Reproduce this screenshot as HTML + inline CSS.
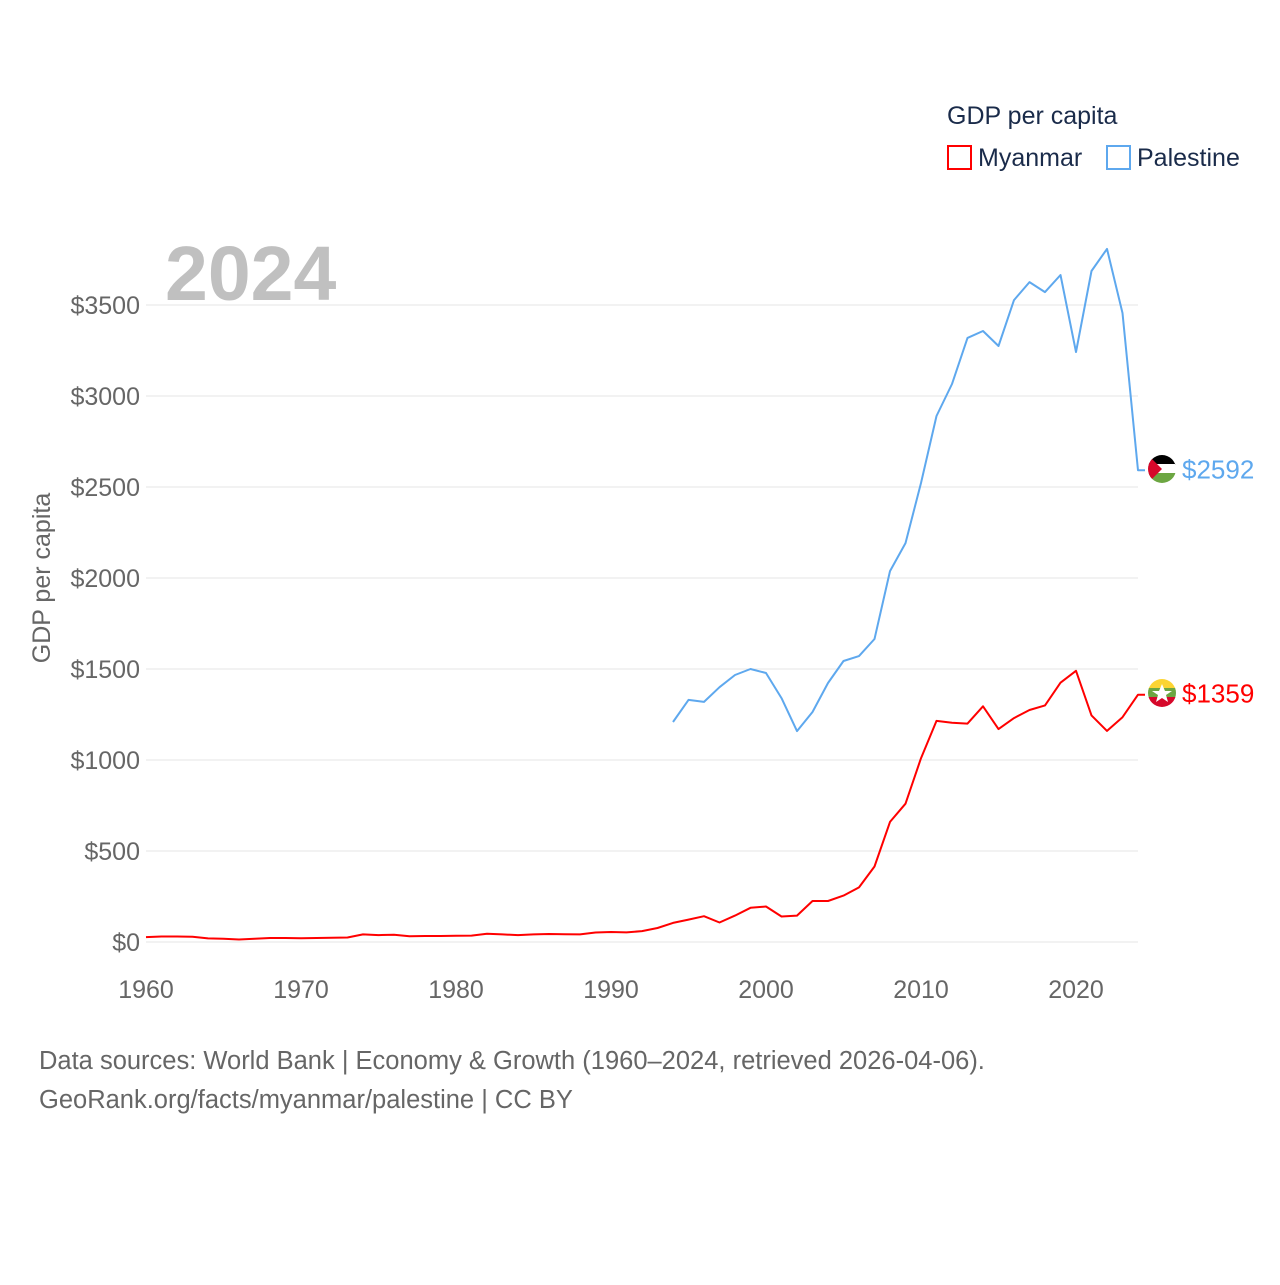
<!DOCTYPE html>
<html><head><meta charset="utf-8"><style>
body{margin:0;background:#fff;font-family:"Liberation Sans",sans-serif;}
svg text{font-family:"Liberation Sans",sans-serif;}
</style></head><body>
<svg id="chart" width="1280" height="1280" viewBox="0 0 1280 1280" xmlns="http://www.w3.org/2000/svg">
<rect width="1280" height="1280" fill="#fff"/>
<g id="grid"></g>
<g id="yticks"></g>
<g id="xticks"></g>
<text x="165" y="300" font-size="77" font-weight="bold" fill="#c0c0c0">2024</text>
<text transform="translate(50,578) rotate(-90)" text-anchor="middle" font-size="25" fill="#666">GDP per capita</text>
<g id="series"></g>
<g>
<text x="947" y="124" font-size="25" fill="#1a2b4a">GDP per capita</text>
<rect x="948" y="146" width="23" height="23" fill="none" stroke="#ff0000" stroke-width="2"/>
<text x="978" y="166" font-size="25" fill="#1a2b4a">Myanmar</text>
<rect x="1107" y="146" width="23" height="23" fill="none" stroke="#5ea8ee" stroke-width="2"/>
<text x="1137" y="166" font-size="25" fill="#1a2b4a">Palestine</text>
</g>
<g>
<clipPath id="cp1"><circle cx="1162" cy="469" r="14"/></clipPath>
<g clip-path="url(#cp1)"><rect x="1148" y="455" width="28" height="10" fill="#000"/><rect x="1148" y="464" width="28" height="10" fill="#fff"/><rect x="1148" y="473" width="28" height="10" fill="#6ca642"/><polygon points="1148,455 1162,469 1148,483" fill="#d6082a"/></g>
</g>
<g>
<clipPath id="cp2"><circle cx="1162" cy="693" r="14"/></clipPath>
<g clip-path="url(#cp2)"><rect x="1148" y="679" width="28" height="10" fill="#fcd433"/><rect x="1148" y="688" width="28" height="10" fill="#6ca642"/><rect x="1148" y="697" width="28" height="10" fill="#d6082a"/><polygon points="1162,684 1165,691 1172,691 1166,695 1168,702 1162,698 1156,702 1158,695 1152,691 1159,691" fill="#fff"/></g>
</g>
<text x="39" y="1069" font-size="25.5" fill="#666">Data sources: World Bank | Economy &amp; Growth (1960–2024, retrieved 2026-04-06).</text>
<text x="39" y="1108" font-size="25.5" fill="#666">GeoRank.org/facts/myanmar/palestine | CC BY</text>
</svg>
<script>
const myanmarYears = [];
for (let y = 1960; y <= 2024; y++) myanmarYears.push(y);
const myanmarValues = [27,30,30,29,20,18,14,18,22,22,21,22,23,25,42,38,40,32,33,33,34,35,45,42,38,42,44,43,42,52,55,53,60,77,105,123,142,107,145,188,195,140,145,225,225,255,300,415,660,760,1010,1215,1205,1200,1295,1170,1230,1275,1300,1425,1490,1245,1160,1235,1359];
const palestineYears = [];
for (let y = 1994; y <= 2024; y++) palestineYears.push(y);
const palestineValues = [1209,1330,1319,1400,1467,1500,1478,1340,1159,1264,1423,1544,1571,1665,2038,2192,2522,2890,3066,3319,3357,3275,3527,3626,3571,3665,3242,3687,3808,3456,2592];
const yTickValues = [0,500,1000,1500,2000,2500,3000,3500];
const xTickValues = [1960,1970,1980,1990,2000,2010,2020];

const NS = 'http://www.w3.org/2000/svg';
const xS = v => 146 + (v - 1960) * 15.5;
const yS = v => 942 - v * 0.182;
function mk(tag, attrs, parent, txt) {
  const e = document.createElementNS(NS, tag);
  for (const k in attrs) e.setAttribute(k, attrs[k]);
  if (txt !== undefined) e.textContent = txt;
  parent.appendChild(e);
  return e;
}
const grid = document.getElementById('grid');
const yt = document.getElementById('yticks');
yTickValues.forEach(v => {
  const l = mk('line', {x1:146, x2:1138, y1:yS(v), y2:yS(v), stroke:'#e6e6e6', 'stroke-width':1}, grid);
  
  
  const t = mk('text', {x:140, y:yS(v)+9, 'text-anchor':'end', 'font-size':25, fill:'#666'}, yt, '$' + v);
  
  
});
const xt = document.getElementById('xticks');
xTickValues.forEach(v => {
  const t = mk('text', {x:xS(v), y:998, 'text-anchor':'middle', 'font-size':25, fill:'#666'}, xt, String(v));
  
  
});
const series = document.getElementById('series');
function drawLine(years, vals, color, name) {
  const pts = years.map((y, i) => xS(y).toFixed(1) + ',' + yS(vals[i]).toFixed(1));
  const last = vals[vals.length - 1];
  pts.push((xS(years[years.length-1]) + 7) + ',' + yS(last).toFixed(1));
  const p = mk('polyline', {points:pts.join(' '), fill:'none', stroke:color, 'stroke-width':2, 'stroke-linejoin':'round'}, series);
  
  
  const t = mk('text', {x:1182, y:yS(last)+8, 'font-size':26, fill:color}, series, '$' + last);
  
  
}
drawLine(palestineYears, palestineValues, '#5ea8ee', 'palestine');
drawLine(myanmarYears, myanmarValues, '#ff0000', 'myanmar');
</script>
</body></html>
